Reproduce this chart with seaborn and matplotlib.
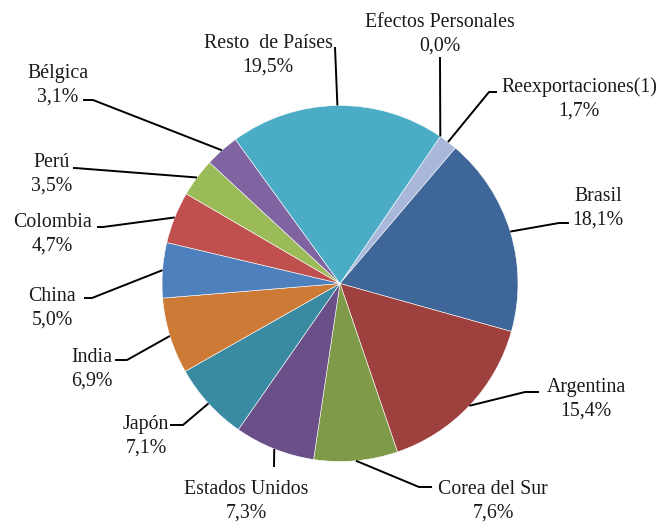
import numpy as np
import matplotlib
matplotlib.use("Agg")
import matplotlib.pyplot as plt
import seaborn as sns

# ---- data (clockwise from the top) ----
categories = ["Efectos Personales", "Reexportaciones(1)", "Brasil", "Argentina",
              "Corea del Sur", "Estados Unidos", "Japón", "India", "China",
              "Colombia", "Perú", "Bélgica", "Resto  de Países"]
shares = [0.0, 1.7, 18.1, 15.4, 7.6, 7.3, 7.1, 6.9, 5.0, 4.7, 3.5, 3.1, 19.5]
pct_labels = ["0,0%", "1,7%", "18,1%", "15,4%", "7,6%", "7,3%", "7,1%", "6,9%",
              "5,0%", "4,7%", "3,5%", "3,1%", "19,5%"]

# ---- styles / layout (image pixel coordinates, y measured from top) ----
colors = ["#B0B0B0", "#A9B8DA", "#3F6698", "#9E403D", "#7F9B4A", "#6A4F88",
          "#3A8AA2", "#CD7A37", "#4F80BE", "#C0504D", "#9BBB59", "#8064A2",
          "#4BACC6"]
W, H = 662, 523
CX, CY, R = 340, 283.5, 178
# text centre
text_pos = [(440, 34), (579, 99), (598, 208), (586, 399), (493, 501), (246, 501),
            (146, 436), (92, 369), (52, 308), (52, 234), (52, 174), (58, 85),
            (268, 55)]
# leader polyline: elbow point, end point (near text)
leader = [((440, 57), (440, 57)), ((489, 92), (497, 92)), ((559, 223), (569, 223)),
          ((525, 392), (539, 392)), ((419, 487), (432, 487)), ((274, 467), (274, 467)),
          ((183, 425), (170, 425)), ((127, 360), (115, 360)), ((92, 298), (84, 298)),
          ((103, 227), (97, 227)), ((75, 168), (73, 168)), ((93, 100), (83, 100)),
          ((335, 47), (335, 47))]

sns.set_theme(style="white")
plt.rcParams["font.family"] = ["Liberation Serif", "DejaVu Serif"]

fig = plt.figure(figsize=(W / 100, H / 100), dpi=100)
ax = fig.add_axes([0, 0, 1, 1])

def Y(y):
    return H - y

start_angle = 90 - 34.3
wedges, _ = ax.pie(shares, colors=colors, startangle=start_angle, counterclock=False,
                   center=(CX, Y(CY)), radius=R,
                   wedgeprops=dict(linewidth=0.4, edgecolor="white"))
wedges[0].set_visible(False)

for i, w in enumerate(wedges):
    mid = np.deg2rad((w.theta1 + w.theta2) / 2)
    ex, ey = CX + R * np.cos(mid), Y(CY) + R * np.sin(mid)
    (bx, by), (dx, dy) = leader[i]
    ax.plot([ex, bx, dx], [ey, Y(by), Y(dy)], color="black", lw=1.4,
            solid_capstyle="butt", zorder=3)
    tx, ty = text_pos[i]
    ax.text(tx, Y(ty), f"{categories[i]}\n{pct_labels[i]}", ha="center", va="center",
            multialignment="center", fontsize=14.3, color="#1a1a1a", linespacing=1.3)

ax.set_xlim(0, W)
ax.set_ylim(0, H)
ax.set_aspect("equal")
ax.axis("off")
fig.savefig("out.png", dpi=100)
